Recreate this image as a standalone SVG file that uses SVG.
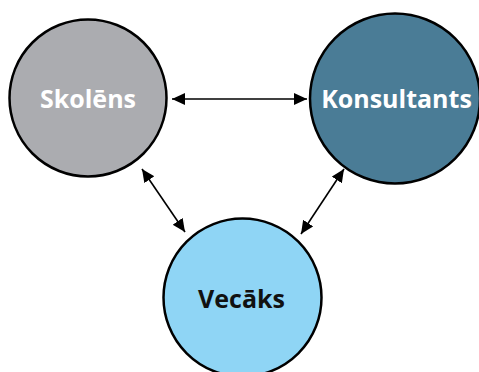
<svg xmlns="http://www.w3.org/2000/svg" width="479" height="372" viewBox="0 0 479 372">
<style>
.node{stroke:#000;stroke-width:2.5}
.lbl{font-family:"Open Sans","Liberation Sans",sans-serif;font-weight:700;text-anchor:middle;font-size:25px}
.conn{stroke:#000;stroke-width:1.6;fill:none;marker-start:url(#ah);marker-end:url(#ah)}
</style>
<defs>
<marker id="ah" markerUnits="userSpaceOnUse" markerWidth="14" markerHeight="13" refX="13" refY="6" orient="auto-start-reverse" viewBox="0 0 14 13">
<path d="M0,0 L13,6 L0,12 z" fill="#000"/>
</marker>
</defs>
<rect width="479" height="372" fill="#fff"/>
<g id="connectors">
<line class="conn" x1="172" y1="99" x2="307" y2="99"/>
<line class="conn" x1="142" y1="169" x2="185" y2="232"/>
<line class="conn" x1="344" y1="169" x2="301" y2="234"/>
</g>
<g id="skolens">
<circle class="node" cx="88" cy="98" r="78.5" fill="#abacb0"/>
<text class="lbl" x="88" y="108" fill="#fff">Skolēns</text>
</g>
<g id="konsultants">
<circle class="node" cx="395" cy="98.5" r="85" fill="#4a7c96"/>
<text class="lbl" x="396.5" y="108" fill="#fff">Konsultants</text>
</g>
<g id="vecaks">
<circle class="node" cx="242.5" cy="297.5" r="79" fill="#8fd5f5"/>
<text class="lbl" x="241.5" y="308" fill="#111">Vecāks</text>
</g>
</svg>
